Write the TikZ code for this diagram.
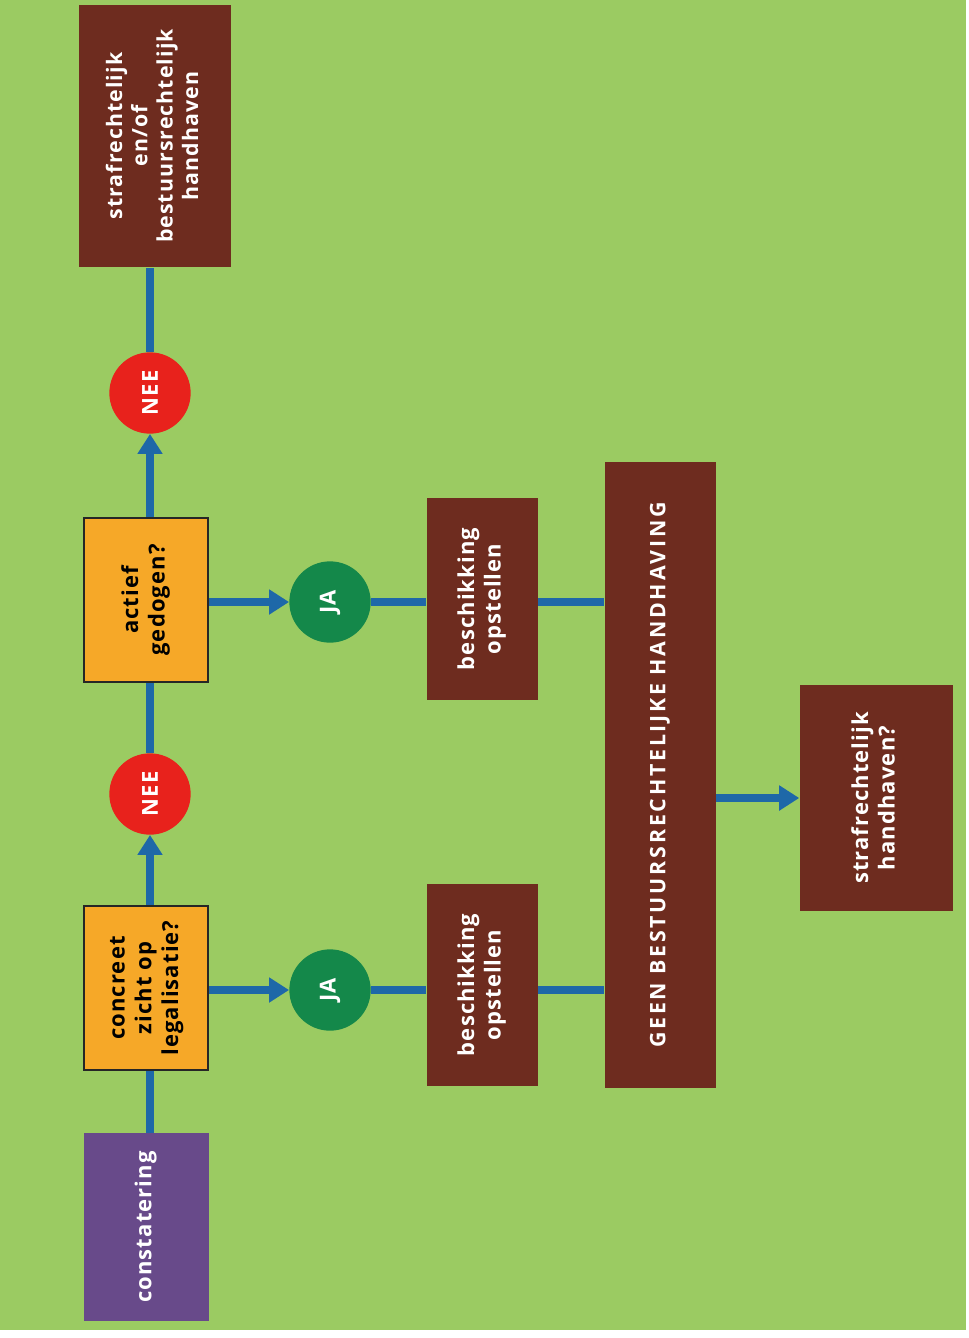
\documentclass[tikz,border=0pt]{standalone}
\usepackage{fontspec}
\setmainfont{Open Sans}[LetterSpace=5]
\usetikzlibrary{arrows.meta}
\definecolor{bggreen}{RGB}{155,203,98}
\definecolor{boxpurple}{RGB}{104,74,138}
\definecolor{boxorange}{RGB}{246,168,40}
\definecolor{boxbrown}{RGB}{110,44,31}
\definecolor{neered}{RGB}{232,34,28}
\definecolor{jagreen}{RGB}{20,136,74}
\definecolor{flowblue}{RGB}{30,104,168}
\newcommand{\rtxt}[1]{\rotatebox{90}{\begin{tabular}{@{}c@{}}#1\end{tabular}}}
\tikzset{
  boxbase/.style={rectangle, inner sep=0pt, font=\bfseries\fontsize{16.5}{20}\selectfont},
  purplebox/.style={boxbase, fill=boxpurple, text=white},
  orangebox/.style={boxbase, fill=boxorange, draw=black!85, line width=2.2pt, text=black},
  brownbox/.style={boxbase, fill=boxbrown, text=white},
  neecirc/.style={circle, fill=neered, text=white, minimum size=61pt, inner sep=0pt, font=\bfseries\fontsize{16.5}{17}\selectfont},
  jacirc/.style={circle, fill=jagreen, text=white, minimum size=61pt, inner sep=0pt, font=\bfseries\fontsize{16.5}{17}\selectfont},
  flow/.style={draw=flowblue, line width=6.5pt},
  flowarr/.style={flow, -{Triangle[length=15pt,width=18pt]}},
}
\begin{document}
\begin{tikzpicture}[x=0.75pt,y=-0.75pt]
\useasboundingbox (0,0) rectangle (968,1338);
\fill[white] (0,0) rectangle (968,1338);
\fill[bggreen] (0,0) rectangle (966,1330);
% nodes
\node[purplebox, minimum width=93.75pt, minimum height=141pt] (cons) at (146,1227) {\rtxt{constatering}};
\node[orangebox, minimum width=93pt, minimum height=123pt] (conc) at (146,988) {\rtxt{concreet\\zicht op\\legalisatie?}};
\node[neecirc] (nee1) at (150,794) {\rotatebox{90}{NEE}};
\node[orangebox, minimum width=93pt, minimum height=123pt] (actf) at (146,600) {\rtxt{actief\\gedogen?}};
\node[neecirc] (nee2) at (150,393) {\rotatebox{90}{NEE}};
\node[brownbox, minimum width=114pt, minimum height=197pt, font=\bfseries\fontsize{16}{19}\selectfont] (stra1) at (155,136) {\rtxt{strafrechtelijk\\en/of\\bestuursrechtelijk\\handhaven}};
\node[jacirc] (ja1) at (330,990) {\rotatebox{90}{JA}};
\node[jacirc] (ja2) at (330,602) {\rotatebox{90}{JA}};
\node[brownbox, minimum width=83.25pt, minimum height=152pt] (bes1) at (482,985) {\rtxt{beschikking\\opstellen}};
\node[brownbox, minimum width=83.25pt, minimum height=152pt] (bes2) at (482,599) {\rtxt{beschikking\\opstellen}};
\node[brownbox, minimum width=83.25pt, minimum height=469pt, font=\bfseries\fontsize{16}{20}\selectfont\addfontfeature{LetterSpace=13}] (geen) at (660,775) {\rtxt{GEEN BESTUURSRECHTELIJKE HANDHAVING}};
\node[brownbox, minimum width=114.75pt, minimum height=170pt] (stra2) at (876,798) {\rtxt{strafrechtelijk\\handhaven?}};
% connectors
\draw[flow] (cons.north -| nee1) -- (conc.south -| nee1);
\draw[flowarr] (conc.north -| nee1) -- (nee1);
\draw[flow] (nee1) -- (actf.south -| nee1);
\draw[flowarr] (actf.north -| nee2) -- (nee2);
\draw[flow] (nee2) -- (stra1.south -| nee2);
\draw[flowarr] (conc.east |- ja1) -- (ja1);
\draw[flow] (ja1.east) -- (ja1.east -| bes1.west);
\draw[flow] (bes1.east |- ja1) -- (ja1 -| geen.west);
\draw[flowarr] (actf.east |- ja2) -- (ja2);
\draw[flow] (ja2.east) -- (ja2.east -| bes2.west);
\draw[flow] (bes2.east |- ja2) -- (ja2 -| geen.west);
\draw[flowarr] (geen.east |- stra2) -- (stra2.west);
\end{tikzpicture}
\end{document}
